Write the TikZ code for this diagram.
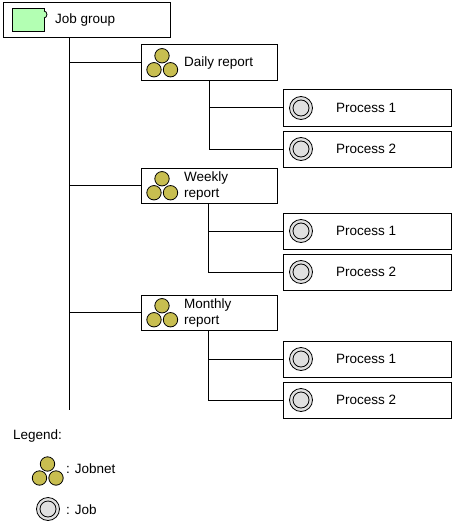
\documentclass[tikz,border=0pt]{standalone}
\usepackage{fontspec}
\setmainfont{Liberation Sans}
\usetikzlibrary{positioning, calc}

\definecolor{groupgreen}{RGB}{179,255,179}
\definecolor{netolive}{RGB}{200,190,80}
\definecolor{jobgray}{RGB}{224,224,224}

\tikzset{
    pics/neticon/.style={code={
        \draw[netcircle] (0,-7) circle (7.2pt);
        \draw[netcircle] (-8,7) circle (7.2pt);
        \draw[netcircle] (8.5,7) circle (7.2pt);
    }},
    pics/jobicon/.style={code={
        \draw[jobcircle] (0,0) circle (11.5pt);
        \draw[jobcircle] (0,0) circle (8pt);
    }}
}

\begin{document}
\begin{tikzpicture}[
    x=1pt, y=-1pt,
    every node/.style={font=\fontsize{13.5}{16}\selectfont},
    link/.style={draw=black, line width=1pt},
    groupbox/.style={
        rectangle,
        draw=black,
        line width=1pt,
        outer sep=0pt,
        minimum width=167pt,
        minimum height=35pt
    },
    netbox/.style={
        rectangle,
        draw=black,
        line width=1pt,
        outer sep=0pt,
        minimum width=136pt,
        minimum height=35.5pt
    },
    jobbox/.style={
        rectangle,
        draw=black,
        line width=1pt,
        outer sep=0pt,
        minimum width=168pt,
        minimum height=36pt
    },
    netcircle/.style={draw=black, fill=netolive, line width=0.8pt},
    jobcircle/.style={draw=black, fill=jobgray, line width=0.8pt},
    lbl/.style={inner sep=0pt, align=left}
]

\useasboundingbox (0,0) rectangle (454,532);

% top box
\node[groupbox, anchor=north west] (group) at (3,3) {};
\node[rectangle, draw=black, fill=groupgreen, line width=1pt, outer sep=0pt,
    minimum width=32pt, minimum height=23pt, inner sep=0pt, right=9pt of group.west] (groupicon) {};
\draw[line width=0.8pt, fill=groupgreen] ($(groupicon.north east)+(0,2)$) arc[start angle=90, end angle=-90, x radius=3pt, y radius=3.5pt];
\node[lbl, right=52pt of group.west] (grouptext) {Job group};

% jobnets
\node[netbox, below right=7pt and -29pt of group.south east] (daily) {};
\node[netbox, below=87.5pt of daily.south west, anchor=north west] (weekly) {};
\node[netbox, below=91.5pt of weekly.south west, anchor=north west] (monthly) {};
\pic at ([xshift=21pt]daily.west) {neticon};
\pic at ([xshift=21pt]weekly.west) {neticon};
\pic at ([xshift=21pt]monthly.west) {neticon};
\node[lbl, right=43pt of daily.west] (dailytext) {Daily report};
\node[lbl, right=43pt of weekly.west] (weeklytext) {Weekly\\report};
\node[lbl, right=43pt of monthly.west] (monthlytext) {Monthly\\report};

% jobs
\node[jobbox, below right=9.5pt and 6pt of daily.south east] (dailyone) {};
\node[jobbox, below=5pt of dailyone.south west, anchor=north west] (dailytwo) {};
\node[jobbox, below right=9.5pt and 6pt of weekly.south east] (weeklyone) {};
\node[jobbox, below=5pt of weeklyone.south west, anchor=north west] (weeklytwo) {};
\node[jobbox, below right=10.5pt and 6pt of monthly.south east] (monthlyone) {};
\node[jobbox, below=5pt of monthlyone.south west, anchor=north west] (monthlytwo) {};

\pic at ([xshift=18pt]dailyone.west) {jobicon};
\pic at ([xshift=18pt]dailytwo.west) {jobicon};
\pic at ([xshift=18pt]weeklyone.west) {jobicon};
\pic at ([xshift=18pt]weeklytwo.west) {jobicon};
\pic at ([xshift=18pt]monthlyone.west) {jobicon};
\pic at ([xshift=18pt]monthlytwo.west) {jobicon};

\node[lbl, right=53pt of dailyone.west] (dailyonetext) {Process 1};
\node[lbl, right=53pt of dailytwo.west] (dailytwotext) {Process 2};
\node[lbl, right=53pt of weeklyone.west] (weeklyonetext) {Process 1};
\node[lbl, right=53pt of weeklytwo.west] (weeklytwotext) {Process 2};
\node[lbl, right=53pt of monthlyone.west] (monthlyonetext) {Process 1};
\node[lbl, right=53pt of monthlytwo.west] (monthlytwotext) {Process 2};

% lines
\coordinate (trunkend) at (69.5,410);
\coordinate (dailyx) at (209.5,0);
\coordinate (weeklyx) at (208.5,0);
\coordinate (monthlyx) at (208.5,0);

\draw[link] (group.south -| trunkend) -- (trunkend);
\draw[link] (daily.west -| trunkend) -- (daily.west);
\draw[link] (weekly.west -| trunkend) -- (weekly.west);
\draw[link] (monthly.west -| trunkend) -- (monthly.west);

\draw[link] (daily.south -| dailyx) -- (dailytwo.west -| dailyx) -- (dailytwo.west);
\draw[link] (dailyone.west -| dailyx) -- (dailyone.west);
\draw[link] (weekly.south -| weeklyx) -- (weeklytwo.west -| weeklyx) -- (weeklytwo.west);
\draw[link] (weeklyone.west -| weeklyx) -- (weeklyone.west);
\draw[link] (monthly.south -| monthlyx) -- (monthlytwo.west -| monthlyx) -- (monthlytwo.west);
\draw[link] (monthlyone.west -| monthlyx) -- (monthlyone.west);

% legend
\node[lbl, anchor=west] (legend) at (13,436) {Legend:};
\pic at (47.5,471) {neticon};
\node[lbl, anchor=west] (netlegend) at (66,469) {: Jobnet};
\pic at (48,509) {jobicon};
\node[lbl, anchor=west] (joblegend) at (66,510) {: Job};

\end{tikzpicture}
\end{document}
